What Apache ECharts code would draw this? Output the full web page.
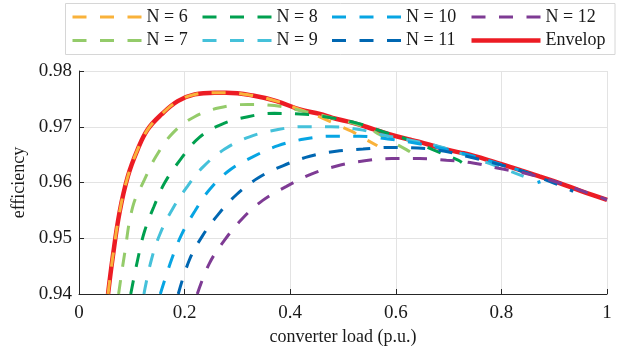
<!DOCTYPE html>
<html>
<head>
<meta charset="utf-8">
<script src="https://cdn.jsdelivr.net/npm/echarts@6/dist/echarts.min.js"></script>
<style>
html,body{margin:0;padding:0;background:#fff;}
#c{width:633px;height:351px;}
</style>
</head>
<body>
<div id="c"></div>
<script>
// ---- data ----
const xTicks = [0, 0.2, 0.4, 0.6, 0.8, 1];
const yTicks = [0.94, 0.95, 0.96, 0.97, 0.98];

const loadEnv = [0.055, 0.064, 0.0767, 0.0925, 0.111, 0.130, 0.156, 0.187, 0.219, 0.257, 0.279, 0.329, 0.374, 0.418, 0.456, 0.480, 0.519, 0.560, 0.601, 0.630, 0.645, 0.680, 0.720, 0.740, 0.800, 0.840, 0.872, 0.910, 0.950, 1.000];
const effEnv  = [0.9400, 0.9467, 0.9546, 0.9611, 0.9659, 0.9695, 0.9722, 0.9746, 0.9758, 0.9761, 0.9761, 0.9756, 0.9746, 0.9731, 0.9723, 0.9716, 0.9707, 0.9695, 0.9683, 0.9676, 0.9673, 0.9663, 0.9654, 0.9650, 0.9633, 0.9621, 0.9611, 0.9599, 0.9585, 0.9569];

const load6 = [0.055, 0.064, 0.0767, 0.0925, 0.111, 0.130, 0.156, 0.187, 0.219, 0.257, 0.279, 0.329, 0.374, 0.418, 0.440, 0.462, 0.490, 0.516, 0.540, 0.565];
const eff6  = [0.9400, 0.9467, 0.9546, 0.9611, 0.9659, 0.9695, 0.9722, 0.9746, 0.9758, 0.9761, 0.9761, 0.9756, 0.9746, 0.9731, 0.9724, 0.9715, 0.9703, 0.9692, 0.9679, 0.9666];

const load7 = [0.075, 0.086, 0.102, 0.124, 0.146, 0.178, 0.219, 0.266, 0.320, 0.370, 0.424, 0.470, 0.520, 0.550, 0.569, 0.595, 0.620, 0.630];
const eff7  = [0.9400, 0.9470, 0.9557, 0.9605, 0.9647, 0.9689, 0.9718, 0.9734, 0.9740, 0.9738, 0.9728, 0.9718, 0.9706, 0.9696, 0.9686, 0.9672, 0.9659, 0.9653];

const load8 = [0.098, 0.111, 0.124, 0.142, 0.162, 0.192, 0.228, 0.269, 0.320, 0.370, 0.418, 0.465, 0.525, 0.573, 0.623, 0.670, 0.718, 0.725];
const eff8  = [0.9400, 0.9461, 0.9512, 0.9557, 0.9599, 0.9641, 0.9681, 0.9704, 0.9718, 0.9724, 0.9723, 0.9718, 0.9707, 0.9692, 0.9677, 0.9659, 0.9640, 0.9636];

const load9 = [0.123, 0.137, 0.154, 0.178, 0.206, 0.235, 0.276, 0.323, 0.377, 0.424, 0.477, 0.531, 0.582, 0.632, 0.680, 0.727, 0.778, 0.820, 0.842];
const eff9  = [0.9400, 0.9461, 0.9509, 0.9554, 0.9594, 0.9628, 0.9660, 0.9682, 0.9695, 0.9700, 0.9700, 0.9695, 0.9684, 0.9675, 0.9665, 0.9651, 0.9634, 0.9619, 0.9611];

const load10 = [0.154, 0.175, 0.194, 0.219, 0.247, 0.285, 0.329, 0.377, 0.427, 0.478, 0.531, 0.585, 0.636, 0.683, 0.740, 0.800, 0.850, 0.866, 0.872];
const eff10  = [0.9400, 0.9461, 0.9506, 0.9548, 0.9587, 0.9622, 0.9646, 0.9666, 0.9678, 0.9683, 0.9683, 0.9678, 0.9671, 0.9662, 0.9649, 0.9632, 0.9617, 0.9610, 0.9598];

const load11 = [0.188, 0.209, 0.233, 0.263, 0.298, 0.339, 0.386, 0.437, 0.487, 0.538, 0.588, 0.642, 0.693, 0.734, 0.797, 0.850, 0.891, 0.915, 0.936];
const eff11  = [0.9400, 0.9461, 0.9503, 0.9542, 0.9578, 0.9608, 0.9630, 0.9647, 0.9656, 0.9660, 0.9663, 0.9662, 0.9656, 0.9647, 0.9632, 0.9617, 0.9602, 0.9593, 0.9584];

const load12 = [0.224, 0.247, 0.276, 0.310, 0.348, 0.393, 0.440, 0.490, 0.541, 0.592, 0.645, 0.696, 0.746, 0.797, 0.847, 0.904, 0.950, 1.000];
const eff12  = [0.9400, 0.9455, 0.9497, 0.9536, 0.9568, 0.9593, 0.9615, 0.9630, 0.9639, 0.9643, 0.9643, 0.9640, 0.9635, 0.9625, 0.9616, 0.9601, 0.9586, 0.9569];

const seriesNames = ['N = 6', 'N = 7', 'N = 8', 'N = 9', 'N = 10', 'N = 11', 'N = 12', 'Envelop'];
const seriesColors = ['#F9B23A', '#94CB6A', '#00A04F', '#45C1DA', '#07A5E3', '#0067B2', '#7E3B94', '#EC1C24'];

// ---- build ----
const zip = (xs, ys) => xs.map((x, i) => [x, ys[i]]);
const curves = [
  zip(load6, eff6), zip(load7, eff7), zip(load8, eff8), zip(load9, eff9),
  zip(load10, eff10), zip(load11, eff11), zip(load12, eff12), zip(loadEnv, effEnv)
];

const FONT = '"Liberation Serif", "Times New Roman", serif';
const DASH_ICON = 'path://M0,0h14v3h-14z M27.5,0h14v3h-14z M55,0h14v3h-14z';
const SOLID_ICON = 'path://M0,0h69v4.5h-69z';

const series = curves.map((d, i) => {
  const isEnv = i === 7;
  return {
    name: seriesNames[i],
    type: 'line',
    data: d,
    symbol: 'none',
    showSymbol: false,
    smooth: 0.4,
    clip: true,
    z: isEnv ? 2 : 3,
    lineStyle: {
      color: seriesColors[i],
      width: isEnv ? 4.5 : 3,
      type: isEnv ? 'solid' : [14, 13.5],
      cap: 'butt'
    },
    itemStyle: { color: seriesColors[i] },
    emphasis: { disabled: true },
    animation: false
  };
});

const legendCols = [
  { left: 72.5, data: ['N = 6', 'N = 7'] },
  { left: 202.5, data: ['N = 8', 'N = 9'] },
  { left: 332, data: ['N = 10', 'N = 11'] },
  { left: 471.5, data: ['N = 12', 'Envelop'] }
];
const legends = legendCols.map(c => ({
  orient: 'vertical',
  left: c.left,
  top: 8,
  padding: 0,
  itemWidth: 69,
  itemHeight: 14,
  itemGap: 5.5,
  selectedMode: false,
  data: c.data.map(n => ({
    name: n,
    icon: n === 'Envelop' ? SOLID_ICON : DASH_ICON,
    itemStyle: { color: seriesColors[seriesNames.indexOf(n)], borderWidth: 0 },
    lineStyle: { width: 0, opacity: 0 }
  })),
  itemStyle: { borderWidth: 0 },
  textStyle: { fontFamily: FONT, fontSize: 18, color: '#1a1a1a', lineHeight: 18 }
}));

const chart = echarts.init(document.getElementById('c'), null, { renderer: 'canvas' });
chart.setOption({
  animation: false,
  backgroundColor: '#ffffff',
  grid: { left: 79, right: 26, top: 71, bottom: 57, containLabel: false },
  legend: legends,
  graphic: [{
    type: 'rect',
    shape: { x: 65.5, y: 3.5, width: 549.5, height: 51 },
    style: { fill: '#ffffff', stroke: '#D6D6D6', lineWidth: 1 },
    z: -1, silent: true
  }],
  xAxis: {
    type: 'value',
    min: xTicks[0], max: xTicks[xTicks.length - 1], interval: 0.2,
    name: 'converter load (p.u.)',
    nameLocation: 'middle',
    nameGap: 34,
    nameTextStyle: { fontFamily: FONT, fontSize: 18, color: '#1a1a1a' },
    axisLine: { show: true, lineStyle: { color: '#262626', width: 1 } },
    axisTick: { show: true, inside: true, length: 5, lineStyle: { color: '#262626' } },
    axisLabel: { fontFamily: FONT, fontSize: 19, color: '#1a1a1a', margin: 10,
      formatter: v => String(Math.round(v * 10) / 10) },
    splitLine: { show: true, lineStyle: { color: '#E3E3E3', width: 1 } }
  },
  yAxis: {
    type: 'value',
    min: yTicks[0], max: yTicks[yTicks.length - 1], interval: 0.01,
    name: 'efficiency',
    nameLocation: 'middle',
    nameGap: 50,
    nameRotate: 90,
    nameTextStyle: { fontFamily: FONT, fontSize: 18, color: '#1a1a1a' },
    axisLine: { show: true, lineStyle: { color: '#262626', width: 1 } },
    axisTick: { show: true, inside: true, length: 5, lineStyle: { color: '#262626' } },
    axisLabel: { fontFamily: FONT, fontSize: 19, color: '#1a1a1a', margin: 7,
      formatter: v => v.toFixed(2) },
    splitLine: { show: true, lineStyle: { color: '#E3E3E3', width: 1 } }
  },
  series: series
});
</script>
</body>
</html>
